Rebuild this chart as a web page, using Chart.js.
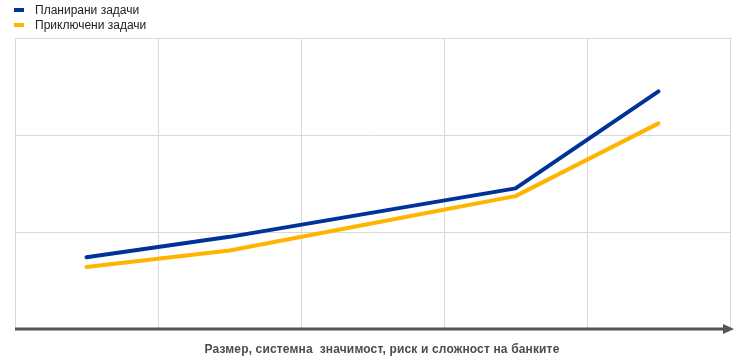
<!DOCTYPE html>
<html>
<head>
<meta charset="utf-8">
<script src="https://cdn.jsdelivr.net/npm/chart.js@4"></script>
<style>
html,body{margin:0;padding:0;background:#fff;}
#wrap{width:744px;height:360px;position:relative;}
</style>
</head>
<body>
<div id="wrap"><canvas id="c" width="744" height="360"></canvas></div>
<script>
const categories = ['1', '2', '3', '4', '5'];
const planned = [0.74, 0.95, 1.2, 1.45, 2.45];
const completed = [0.64, 0.81, 1.09, 1.37, 2.12];
const seriesNames = ['Планирани задачи', 'Приключени задачи'];
const axisTitle = 'Размер, системна  значимост, риск и сложност на банките';

const BLUE = '#003299';
const YELLOW = '#FFB400';
const FONT = '"Liberation Sans", Arial, sans-serif';

const decor = {
  id: 'decor',
  afterDraw(chart) {
    const ctx = chart.ctx;
    const a = chart.chartArea;
    ctx.save();
    // legend
    chart.data.datasets.forEach((ds, i) => {
      const y = 10 + i * 15;
      ctx.strokeStyle = ds.borderColor;
      ctx.lineWidth = 4;
      ctx.lineCap = 'butt';
      ctx.beginPath();
      ctx.moveTo(14, y);
      ctx.lineTo(24, y);
      ctx.stroke();
      ctx.fillStyle = '#222';
      ctx.font = '12px ' + FONT;
      ctx.textBaseline = 'middle';
      ctx.textAlign = 'left';
      ctx.fillText(ds.label, 35, y + 1);
    });
    // x axis arrow
    const y0 = chart.scales.y.getPixelForValue(0);
    ctx.strokeStyle = '#555';
    ctx.fillStyle = '#555';
    ctx.lineWidth = 3;
    ctx.beginPath();
    ctx.moveTo(a.left, y0);
    ctx.lineTo(a.right - 4, y0);
    ctx.stroke();
    ctx.beginPath();
    ctx.moveTo(a.right - 7, y0 - 5);
    ctx.lineTo(a.right + 4, y0);
    ctx.lineTo(a.right - 7, y0 + 5);
    ctx.closePath();
    ctx.fill();
    // axis title
    ctx.fillStyle = '#4d4d4d';
    ctx.font = 'bold 12px ' + FONT;
    if ('letterSpacing' in ctx) ctx.letterSpacing = '0.15px';
    ctx.textAlign = 'center';
    ctx.textBaseline = 'middle';
    ctx.fillText(axisTitle, 382, 350);
    ctx.restore();
  }
};

new Chart(document.getElementById('c'), {
  type: 'line',
  data: {
    labels: categories,
    datasets: [
      { label: seriesNames[0], data: planned, borderColor: BLUE, backgroundColor: BLUE, borderWidth: 4, pointRadius: 0, tension: 0, borderCapStyle: 'round', borderJoinStyle: 'round' },
      { label: seriesNames[1], data: completed, borderColor: YELLOW, backgroundColor: YELLOW, borderWidth: 4, pointRadius: 0, tension: 0, borderCapStyle: 'round', borderJoinStyle: 'round' }
    ]
  },
  options: {
    responsive: false,
    animation: false,
    layout: { padding: { left: 15, right: 14, top: 38, bottom: 31 } },
    plugins: { legend: { display: false }, tooltip: { enabled: false } },
    scales: {
      x: {
        offset: true,
        grid: { offset: true, color: '#d9d9d9', lineWidth: 1, drawTicks: false, tickLength: 0 },
        border: { display: false },
        ticks: { display: false }
      },
      y: {
        min: 0, max: 3,
        ticks: { display: false, stepSize: 1 },
        grid: { color: '#d9d9d9', lineWidth: 1, drawTicks: false, tickLength: 0 },
        border: { display: false }
      }
    }
  },
  plugins: [decor]
});
</script>
</body>
</html>
